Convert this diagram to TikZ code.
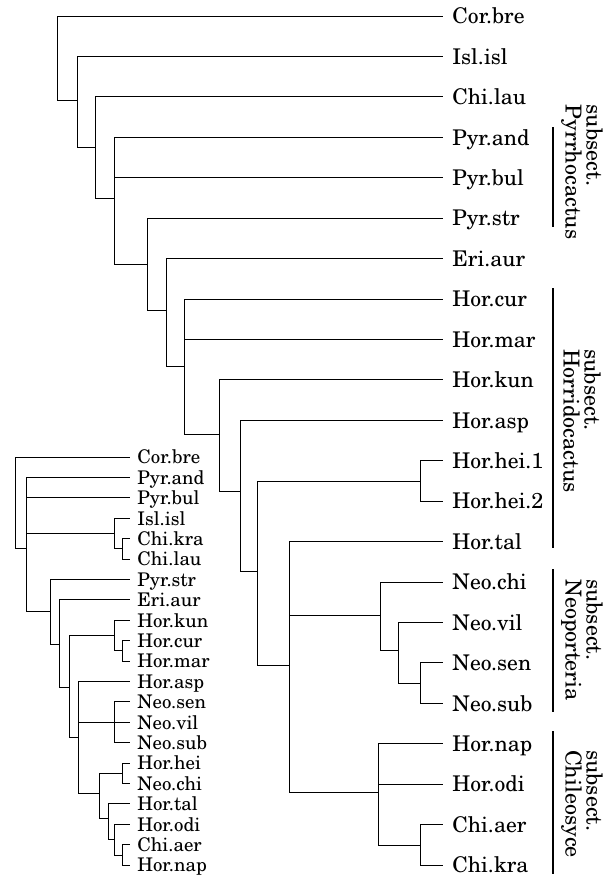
\documentclass[tikz,border=0pt]{standalone}
\usepackage[T1]{fontenc}
\usepackage{newcent}
\usetikzlibrary{positioning}

\begin{document}
\begin{tikzpicture}[x=0.5pt, y=-0.5pt, line cap=rect,
    branch/.style={line width=0.5pt},
    taxon/.style={anchor=west, inner sep=0pt, text height=7.8pt, text depth=0pt, font=\fontsize{10.8}{12}\selectfont},
    smalltaxon/.style={taxon, text height=6.8pt, font=\fontsize{9.4}{10}\selectfont},
    bracket/.style={line width=1pt},
    group/.style={rotate=-90, align=left, inner sep=0pt, font=\fontsize{11}{10.5}\selectfont}]
    \useasboundingbox (0,0) rectangle (610,875);

    % big tree: leaves
    \foreach \name [count=\i] in {Cor.bre, Isl.isl, Chi.lau, Pyr.and, Pyr.bul, Pyr.str, Eri.aur,
        Hor.cur, Hor.mar, Hor.kun, Hor.asp, Hor.hei.1, Hor.hei.2, Hor.tal,
        Neo.chi, Neo.vil, Neo.sen, Neo.sub, Hor.nap, Hor.odi, Chi.aer, Chi.kra} {
        \coordinate (t\i) at (442, {16+(\i-1)*40.43});
        \node[taxon] (m\i) at (452, {16+(\i-1)*40.43}) {\name};
    }

    % big tree: splits
    \coordinate (root) at (57,58);
    \coordinate (a) at (77,100);
    \coordinate (b) at (95,147);
    \coordinate (c) at (114,198);
    \coordinate (d) at (147,264);
    \coordinate (e) at (166,310);
    \coordinate (f) at (184,366);
    \coordinate (g) at (219,434);
    \coordinate (h) at (240,491);
    \coordinate (k) at (257,571);
    \coordinate (hei) at (420,481);
    \coordinate (j) at (289,665);
    \coordinate (neo1) at (380,615);
    \coordinate (neo2) at (398,650);
    \coordinate (neo3) at (420,683);
    \coordinate (chil) at (378,792);
    \coordinate (chi) at (420,845);

    \draw[branch] (root) |- (t1) (root) |- (a)
        (a) |- (t2) (a) |- (b)
        (b) |- (t3) (b) |- (c)
        (c) |- (t4) (c) |- (t5) (c) |- (d)
        (d) |- (t6) (d) |- (e)
        (e) |- (t7) (e) |- (f)
        (f) |- (t8) (f) |- (t9) (f) |- (g)
        (g) |- (t10) (g) |- (h)
        (h) |- (t11) (h) |- (k)
        (k) |- (hei) (k) |- (j)
        (hei) |- (t12) (hei) |- (t13)
        (j) |- (t14) (j) |- (neo1) (j) |- (chil)
        (neo1) |- (t15) (neo1) |- (neo2)
        (neo2) |- (t16) (neo2) |- (neo3)
        (neo3) |- (t17) (neo3) |- (t18)
        (chil) |- (t19) (chil) |- (t20) (chil) |- (chi)
        (chi) |- (t21) (chi) |- (t22);

    % subsections
    \draw[bracket] (553,128) -- (553,226);
    \draw[bracket] (553,289) -- (553,547);
    \draw[bracket] (553,570) -- (553,711);
    \draw[bracket] (553,732) -- (553,873);
    \node[group] (pyr) at (582,172) {subsect.\\Pyrrhocactus};
    \node[group] (hor) at (582,421) {subsect.\\Horridocactus};
    \node[group] (neo) at (582,640) {subsect.\\Neoporteria};
    \node[group] (chl) at (582,804) {subsect.\\Chileosyce};

    % small tree: leaves
    \foreach \name [count=\i] in {Cor.bre, Pyr.and, Pyr.bul, Isl.isl, Chi.kra, Chi.lau, Pyr.str,
        Eri.aur, Hor.kun, Hor.cur, Hor.mar, Hor.asp, Neo.sen, Neo.vil, Neo.sub,
        Hor.hei, Neo.chi, Hor.tal, Hor.odi, Chi.aer, Hor.nap} {
        \coordinate (u\i) at (129, {457+(\i-1)*20.4});
        \node[smalltaxon] (s\i) at (137, {457+(\i-1)*20.4}) {\name};
    }

    % small tree: splits
    \coordinate (sr) at (15,502);
    \coordinate (sa) at (26,548);
    \coordinate (sb) at (114,533);
    \coordinate (sd) at (122,548);
    \coordinate (sc) at (50,611);
    \coordinate (se) at (59,644);
    \coordinate (sf) at (69,687);
    \coordinate (sg) at (114,635);
    \coordinate (si) at (122,650);
    \coordinate (sh) at (78,737);
    \coordinate (sj) at (114,722);
    \coordinate (sk) at (99,793);
    \coordinate (sl) at (122,773);
    \coordinate (sm) at (108,818);
    \coordinate (sn) at (114,839);
    \coordinate (so) at (122,855);

    \draw[branch] (sr) |- (u1) (sr) |- (sa)
        (sa) |- (u2) (sa) |- (u3) (sa) |- (sb) (sa) |- (sc)
        (sb) |- (u4) (sb) |- (sd)
        (sd) |- (u5) (sd) |- (u6)
        (sc) |- (u7) (sc) |- (se)
        (se) |- (u8) (se) |- (sf)
        (sf) |- (sg) (sf) |- (sh)
        (sg) |- (u9) (sg) |- (si)
        (si) |- (u10) (si) |- (u11)
        (sh) |- (u12) (sh) |- (sj) (sh) |- (sk)
        (sj) |- (u13) (sj) |- (u14) (sj) |- (u15)
        (sk) |- (sl) (sk) |- (sm)
        (sl) |- (u16) (sl) |- (u17)
        (sm) |- (u18) (sm) |- (sn)
        (sn) |- (u19) (sn) |- (so)
        (so) |- (u20) (so) |- (u21);
\end{tikzpicture}
\end{document}
